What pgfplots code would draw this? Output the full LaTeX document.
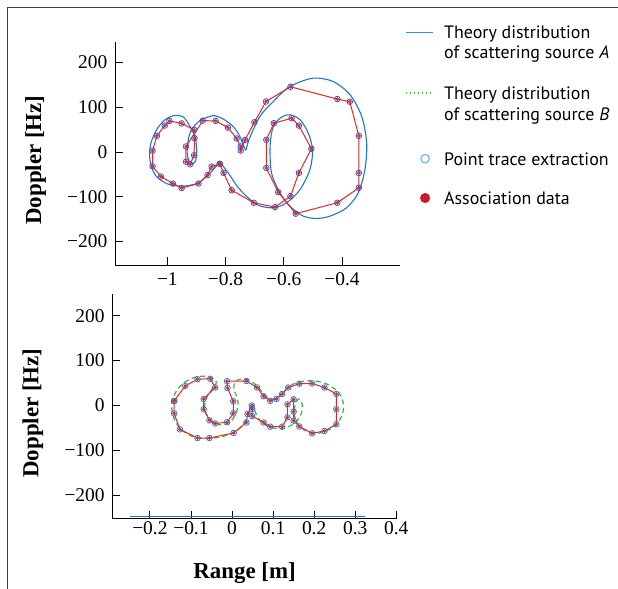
\documentclass[border=0pt]{standalone}
\usepackage{fontspec}
\setmainfont{Liberation Serif}
\newfontfamily\legendfont{PT Sans}
\usepackage{pgfplots}
\pgfplotsset{compat=1.18}
\usepackage{pgfplotstable}

\definecolor{theoA}{RGB}{30,120,200}
\definecolor{theoB}{RGB}{60,180,60}
\definecolor{assoc}{RGB}{235,35,35}
\definecolor{traceA}{RGB}{60,80,190}
\definecolor{traceB}{RGB}{40,120,215}
\definecolor{legA}{RGB}{45,150,220}
\definecolor{legB}{RGB}{80,195,80}
\definecolor{legC}{RGB}{60,170,230}
\definecolor{legD}{RGB}{200,25,45}

% association data / point trace, source A (top panel)
\pgfplotstableread{
x y
-0.820 -26.7
-0.848 -32.9
-0.862 -51.8
-0.893 -70.7
-0.951 -80.7
-0.981 -70.7
-1.022 -55.1
-1.051 -32.2
-1.051 2.7
-1.036 36.0
-1.009 58.9
-0.993 69.3
-0.951 63.8
-0.908 49.3
-0.907 30.9
-0.908 -7.3
-0.922 -27.6
-0.936 -21.8
-0.936 12.2
-0.878 70.0
-0.834 69.3
-0.792 54.4
-0.762 30.0
-0.748 12.2
-0.748 3.1
-0.733 26.7
-0.701 66.4
-0.661 112.7
-0.577 145.6
-0.416 118.2
-0.373 112.2
-0.342 36.0
-0.342 -46.9
-0.342 -80.2
-0.416 -113.6
-0.559 -138.0
-0.619 -90.0
-0.660 -35.8
-0.660 27.1
-0.634 64.2
-0.573 75.3
-0.548 58.9
-0.505 7.1
-0.548 -46.9
-0.577 -98.9
-0.630 -123.3
-0.703 -113.6
-0.779 -85.6
-0.807 -46.9
-0.820 -26.7
}\topdata

% association data / point trace, source B (bottom panel)
\pgfplotstableread{
x y
-0.141 9.6
-0.114 43.1
-0.084 58.3
-0.053 59.2
-0.041 39.7
-0.069 14.1
-0.069 -8.9
-0.055 -33.5
-0.041 -40.6
-0.012 -37.7
0.003 -17.9
0.003 8.9
-0.011 38.6
-0.012 53.8
0.035 54.2
0.061 39.7
0.077 20.1
0.093 10.0
0.108 14.1
0.122 25.2
0.137 39.7
0.164 48.2
0.195 48.7
0.225 39.7
0.254 25.2
0.254 -8.9
0.254 -42.2
0.225 -57.4
0.195 -62.5
0.164 -47.3
0.150 -34.4
0.150 -14.3
0.150 13.4
0.135 2.2
0.135 -26.8
0.122 -47.8
0.093 -47.8
0.077 -38.4
0.049 -23.9
0.049 -8.3
0.048 -0.4
0.038 -19.4
0.035 -38.4
0.004 -61.8
-0.055 -73.0
-0.084 -73.0
-0.127 -53.6
-0.141 -18.3
-0.141 9.6
}\botdata

\pgfplotsset{
  panel/.style={
    scale only axis,
    axis lines=left,
    axis line style={-, line width=0.8bp, black},
    tick align=inside,
    major tick length=7.5bp,
    tick style={line width=0.8bp, black},
    ticklabel style={font=\fontsize{19.5}{22}\selectfont},
    yticklabel style={anchor=east, inner sep=0pt, xshift=-7.5bp},
    ytick={-200,-100,0,100,200},
    yticklabels={−200,−100,0,100,200},
    label style={font=\bfseries\fontsize{23}{26}\selectfont},
    ylabel={Doppler [Hz]},
  },
  assocstyle/.style={assoc, line width=1bp, mark=*, mark size=1.7bp,
    mark options={solid, fill=assoc, draw=assoc, line width=0.2bp}},
}

\begin{document}
\begin{tikzpicture}
\useasboundingbox (0,0) rectangle (618bp,589bp);

% ---------------- top panel ----------------
\begin{axis}[panel,
  at={(115bp,324bp)}, anchor=south west,
  width=285bp, height=223.3bp,
  xmin=-1.180, xmax=-0.2005, ymin=-252.7, ymax=246.4,
  xtick={-1,-0.8,-0.6,-0.4},
  xticklabels={−1,−0.8,−0.6,−0.4},
  xticklabel style={anchor=north, inner sep=0pt, yshift=-7.7bp},
  ylabel style={at={(axis description cs:-0.2596,0.47)}, anchor=base, inner sep=0pt},
  legend style={at={(axis description cs:1.01754,1.0779)}, anchor=north west,
    draw=none, fill=none, inner xsep=0pt, inner ysep=0pt, outer sep=0pt,
    row sep=0pt, column sep=11bp,
    font=\legendfont\fontsize{18}{20}\selectfont,
    nodes={inner sep=0pt, text depth=},
    cells={anchor=base west}},
]
\addlegendimage{legend image code/.code={\draw[legA, line width=0.9bp] (0bp,6.3bp) -- (27bp,6.3bp);}}
\addlegendentry{Theory distribution\rule[-6bp]{0pt}{20bp}}
\addlegendimage{empty legend}
\addlegendentry{of scattering source \textit{A}\rule[-27bp]{0pt}{41bp}}
\addlegendimage{legend image code/.code={\draw[legB, line width=1.2bp, dash pattern=on 1.6bp off 2.4bp] (0bp,6.3bp) -- (27bp,6.3bp);}}
\addlegendentry{Theory distribution\rule[-6.7bp]{0pt}{20.7bp}}
\addlegendimage{empty legend}
\addlegendentry{of scattering source \textit{B}\rule[-31bp]{0pt}{45bp}}
\addlegendimage{legend image code/.code={\path[draw=none,fill=none] (0bp,6.3bp) -- (27bp,6.3bp); \draw[legC, line width=0.9bp, fill=none] (19.5bp,6.3bp) circle[radius=4.3bp];}}
\addlegendentry{Point trace extraction\rule[-25.3bp]{0pt}{39.3bp}}
\addlegendimage{legend image code/.code={\path[draw=none,fill=none] (0bp,6.3bp) -- (27bp,6.3bp); \fill[legD] (19.5bp,6.3bp) circle[radius=4.8bp];}}
\addlegendentry{Association data\rule[-5bp]{0pt}{19bp}}

% theory distribution A
\addplot[theoA, line width=1.1bp, smooth, forget plot] coordinates {
(-0.822,-23.2) (-0.842,-39.4) (-0.865,-54.4) (-0.899,-70.6) (-0.951,-76.6)
(-1.003,-70.6) (-1.043,-50.6) (-1.060,-17.2) (-1.058,16.3) (-1.037,49.7)
(-1.008,72.0) (-0.974,81.6) (-0.945,78.0) (-0.922,57.0) (-0.905,34.8)
(-0.899,5.1) (-0.902,-17.2) (-0.911,-26.1) (-0.925,-20.9) (-0.932,-2.2)
(-0.928,27.4) (-0.917,49.7) (-0.888,70.4) (-0.854,79.3) (-0.836,80.9)
(-0.808,73.5) (-0.774,57.0) (-0.751,34.8) (-0.736,10.0) (-0.730,3.6)};
\addplot[theoA, line width=1.1bp, smooth, forget plot] coordinates {
(-0.730,3.6) (-0.718,30.0) (-0.682,79.3) (-0.636,112.7) (-0.579,146.2)
(-0.499,164.9) (-0.430,157.3) (-0.372,127.7) (-0.332,79.3) (-0.315,20.1)
(-0.321,-39.4) (-0.344,-91.4) (-0.384,-124.8) (-0.441,-143.5) (-0.487,-148.6)
(-0.533,-143.5) (-0.579,-121.2) (-0.613,-91.4) (-0.642,-46.8) (-0.647,12.5)
(-0.636,57.0) (-0.607,78.0) (-0.579,83.1) (-0.544,72.0) (-0.516,42.3)
(-0.501,5.1) (-0.510,-39.4) (-0.544,-84.0) (-0.590,-113.6) (-0.636,-124.8)
(-0.693,-117.4) (-0.751,-84.0) (-0.791,-46.8) (-0.813,-28.3) (-0.822,-23.2)};

\addplot[assocstyle, forget plot] table[x=x,y=y] {\topdata};
\addplot[only marks, mark=o, mark size=2.8bp, mark options={traceA, line width=0.8bp}, forget plot]
  table[x=x,y=y] {\topdata};
\end{axis}

% ---------------- bottom panel ----------------
\begin{axis}[panel,
  at={(112.3bp,70.7bp)}, anchor=south west,
  width=284.4bp, height=224.3bp,
  xmin=-0.2915, xmax=0.401, ymin=-252.2, ymax=248.4,
  xtick={-0.2,-0.1,0,0.1,0.2,0.3,0.4},
  xticklabels={−0.2,−0.1,0,0.1,0.2,0.3,0.4},
  xticklabel style={anchor=north, inner sep=0pt, yshift=-3bp},
  ylabel style={at={(axis description cs:-0.2595,0.469)}, anchor=base, inner sep=0pt},
  xlabel={Range [m]},
  xlabel style={at={(axis description cs:0.465,0)}, anchor=base, inner sep=0pt, yshift=-60.2bp},
]
\addplot[theoA, line width=1.2bp, forget plot] coordinates {(-0.248,-248.5) (0.324,-248.5)};

% theory distribution B
\addplot[theoB, line width=1.2bp, dash pattern=on 5bp off 3.5bp, smooth, forget plot] coordinates {
(0.050,3) (0.040,-20) (0.030,-40) (0.008,-59) (-0.025,-70) (-0.060,-74)
(-0.095,-70) (-0.123,-55) (-0.141,-30) (-0.147,0) (-0.138,28) (-0.118,50)
(-0.088,63) (-0.058,64) (-0.038,52) (-0.052,32) (-0.066,8) (-0.064,-16)
(-0.050,-35) (-0.025,-44) (-0.002,-35) (0.012,-12) (0.014,12) (0.004,38)
(0.010,55) (0.035,58) (0.060,44) (0.078,24) (0.094,13) (0.110,17)
(0.128,33) (0.155,50) (0.195,55) (0.232,47) (0.260,28) (0.272,0)
(0.265,-28) (0.245,-50) (0.212,-62) (0.182,-58) (0.162,-44) (0.152,-22)
(0.154,2) (0.162,14) (0.171,3) (0.168,-20) (0.155,-38) (0.128,-51)
(0.097,-50) (0.072,-38) (0.058,-18) (0.050,3)};

\addplot[assocstyle, forget plot] table[x=x,y=y] {\botdata};
\addplot[only marks, mark=o, mark size=2.8bp, mark options={traceB, line width=0.8bp}, forget plot]
  table[x=x,y=y] {\botdata};
\end{axis}

% outer frame of the figure
\draw[line width=1bp, black!75] (7bp,0bp) -- (7bp,581bp) -- (618bp,581bp);
\end{tikzpicture}
\end{document}
